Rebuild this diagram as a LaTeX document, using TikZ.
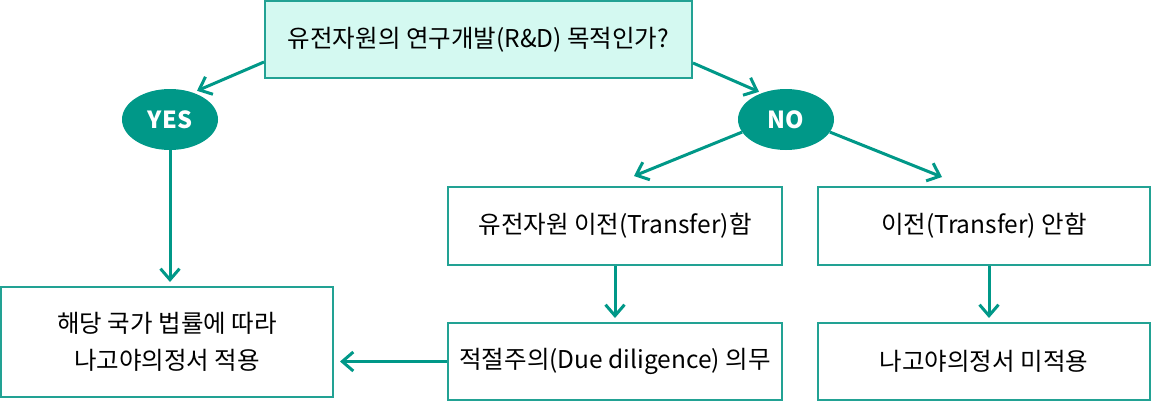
\documentclass[tikz,border=0pt]{standalone}
\usepackage{fontspec}
\setmainfont{Noto Sans CJK KR}
\usepackage{tikz}
\usetikzlibrary{shapes}
\usetikzlibrary{arrows.meta}
\usetikzlibrary{positioning}
\definecolor{teal1}{RGB}{0,152,136}
\definecolor{teal2}{RGB}{34,162,148}
\definecolor{mint}{RGB}{212,249,241}
\begin{document}
\begin{tikzpicture}[x=1pt, y=-1pt,
        font=\fontsize{24.5}{37}\selectfont,
        box/.style={draw=teal2, line width=2pt, rectangle, align=center, inner sep=0pt},
        qbox/.style={box, fill=mint, minimum width=427pt, minimum height=77pt},
        ans/.style={ellipse, fill=teal1, text=white, minimum width=96pt, minimum height=61pt, inner sep=0pt, font=\fontsize{23.5}{24}\selectfont\bfseries},
        arr/.style={draw=teal1, line width=3pt, -{Straight Barb[length=11pt, width=19pt]}}]
        \useasboundingbox (0,0) rectangle (1152,400);
        \node (q) [qbox] at (478.5,39.5) {유전자원의 연구개발(R\&D) 목적인가?};
        \node (yes) [ans] at (170,119.5) {YES};
        \node (no) [ans] at (786,119.5) {NO};
        \node (trans) [box, minimum width=334pt, minimum height=78pt] at (615,226) {유전자원 이전(Transfer)함};
        \node (notrans) [box, minimum width=332pt, minimum height=78pt, right=34pt of trans] {이전(Transfer) 안함};
        \node (dd) [box, minimum width=334pt, minimum height=77pt, below=56pt of trans] {적절주의(Due diligence) 의무};
        \node (notapply) [box, minimum width=332pt, minimum height=77pt, below=56pt of notrans] {나고야의정서 미적용};
        \node (apply) [box, minimum width=332pt, minimum height=110pt] at (167,342) {해당 국가 법률에 따라\\나고야의정서 적용};
        \draw [arr] ([yshift=-22.5pt]q.west) -- ([xshift=27pt, yshift=-2pt]yes.north);
        \draw [arr] ([yshift=-23.5pt]q.east) -- ([xshift=-27pt, yshift=-3pt]no.north);
        \draw [arr] (no.196) -- ([xshift=19pt, yshift=10pt]trans.north);
        \draw [arr] (no.-16) -- ([xshift=-42pt, yshift=9pt]notrans.north);
        \draw [arr] (yes.south) -- ([yshift=4pt]yes.south |- apply.north);
        \draw [arr] (trans.south) -- ([yshift=4pt]dd.north);
        \draw [arr] ([xshift=5pt]notrans.south) -- ([xshift=5pt, yshift=4pt]notapply.north);
        \draw [arr] (dd.west) -- ([xshift=6pt]dd.west -| apply.east);
    \end{tikzpicture}
\end{document}
